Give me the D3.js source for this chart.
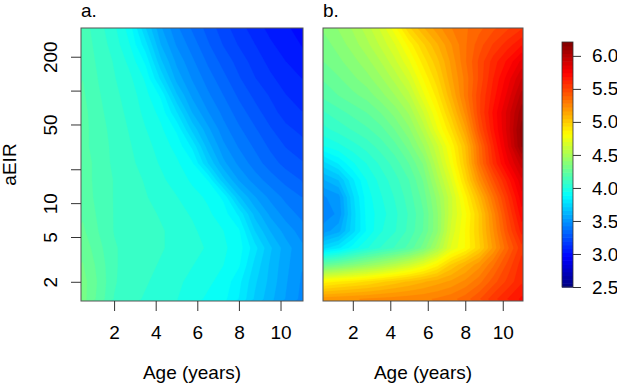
<!DOCTYPE html>
<html>
<head>
<meta charset="utf-8">
<script src="https://cdn.jsdelivr.net/npm/d3@7"></script>
<style>
  body { margin: 0; background: #fff; }
  svg text { font-family: "Liberation Sans", Arial, sans-serif; fill: #000; }
</style>
</head>
<body>
<svg id="chart" width="617" height="385"></svg>
<script>
// grid column centres (age, years) and row centres (aEIR, top row first)
const ages = [0.5, 1.25, 2, 2.75, 3.5, 4.25, 5, 5.75, 6.5, 7.25, 8, 8.75, 9.5, 10.25, 11];
const eir = [362, 256, 181, 128, 90.5, 64, 45.3, 32, 22.6, 16, 11.3, 8, 5.66, 4, 2.83, 2, 1.41];

// panel a values, one row per eir level
const valuesA = [
  [4.15, 4.09, 4.02, 3.92, 3.72, 3.55, 3.44, 3.36, 3.29, 3.22, 3.16, 3.11, 3.06, 3.03, 3.00],
  [4.16, 4.10, 4.04, 3.95, 3.80, 3.60, 3.48, 3.40, 3.32, 3.25, 3.19, 3.14, 3.09, 3.05, 3.02],
  [4.17, 4.11, 4.06, 3.99, 3.88, 3.67, 3.53, 3.44, 3.36, 3.29, 3.23, 3.17, 3.12, 3.08, 3.05],
  [4.18, 4.12, 4.07, 4.02, 3.94, 3.76, 3.58, 3.48, 3.40, 3.33, 3.26, 3.20, 3.15, 3.11, 3.08],
  [4.19, 4.13, 4.08, 4.04, 3.97, 3.88, 3.67, 3.53, 3.44, 3.37, 3.30, 3.24, 3.19, 3.14, 3.11],
  [4.20, 4.14, 4.09, 4.05, 3.99, 3.93, 3.78, 3.60, 3.49, 3.41, 3.34, 3.28, 3.22, 3.17, 3.14],
  [4.20, 4.15, 4.10, 4.06, 4.01, 3.96, 3.88, 3.70, 3.56, 3.45, 3.38, 3.32, 3.26, 3.21, 3.18],
  [4.20, 4.15, 4.11, 4.07, 4.03, 3.98, 3.93, 3.82, 3.63, 3.50, 3.42, 3.36, 3.30, 3.25, 3.22],
  [4.21, 4.16, 4.11, 4.08, 4.04, 4.00, 3.96, 3.90, 3.72, 3.56, 3.47, 3.40, 3.34, 3.29, 3.26],
  [4.21, 4.16, 4.12, 4.09, 4.06, 4.02, 3.98, 3.94, 3.89, 3.68, 3.54, 3.46, 3.40, 3.35, 3.31],
  [4.22, 4.16, 4.12, 4.09, 4.07, 4.04, 4.01, 3.97, 3.94, 3.88, 3.67, 3.55, 3.47, 3.41, 3.37],
  [4.23, 4.17, 4.12, 4.10, 4.08, 4.06, 4.03, 4.00, 3.96, 3.92, 3.82, 3.64, 3.53, 3.46, 3.41],
  [4.25, 4.18, 4.12, 4.10, 4.09, 4.07, 4.05, 4.02, 3.98, 3.95, 3.90, 3.72, 3.60, 3.52, 3.46],
  [4.28, 4.20, 4.13, 4.10, 4.09, 4.07, 4.05, 4.03, 4.00, 3.96, 3.92, 3.80, 3.67, 3.57, 3.50],
  [4.30, 4.22, 4.13, 4.10, 4.08, 4.06, 4.04, 4.01, 3.98, 3.95, 3.90, 3.76, 3.65, 3.56, 3.49],
  [4.32, 4.23, 4.13, 4.09, 4.07, 4.05, 4.02, 3.99, 3.96, 3.93, 3.85, 3.73, 3.64, 3.55, 3.48],
  [4.32, 4.22, 4.12, 4.08, 4.06, 4.04, 4.01, 3.97, 3.94, 3.91, 3.83, 3.71, 3.62, 3.54, 3.47]
];

// panel b values, one row per eir level
const valuesB = [
  [4.37, 4.42, 4.48, 4.56, 4.66, 4.80, 4.98, 5.10, 5.20, 5.28, 5.33, 5.38, 5.44, 5.50, 5.56],
  [4.33, 4.38, 4.44, 4.51, 4.60, 4.70, 4.84, 4.98, 5.10, 5.22, 5.33, 5.43, 5.52, 5.60, 5.68],
  [4.30, 4.34, 4.39, 4.45, 4.53, 4.63, 4.75, 4.90, 5.03, 5.18, 5.33, 5.47, 5.60, 5.70, 5.82],
  [4.25, 4.29, 4.34, 4.39, 4.46, 4.55, 4.66, 4.82, 4.97, 5.15, 5.30, 5.47, 5.63, 5.77, 5.92],
  [4.20, 4.24, 4.28, 4.32, 4.39, 4.47, 4.57, 4.74, 4.90, 5.10, 5.30, 5.50, 5.66, 5.82, 6.00],
  [4.12, 4.16, 4.20, 4.24, 4.30, 4.38, 4.48, 4.64, 4.82, 5.02, 5.24, 5.50, 5.70, 5.88, 6.07],
  [4.05, 4.09, 4.13, 4.17, 4.22, 4.30, 4.40, 4.55, 4.75, 4.93, 5.15, 5.45, 5.68, 5.88, 6.12],
  [3.95, 3.99, 4.04, 4.09, 4.15, 4.22, 4.32, 4.46, 4.63, 4.83, 5.05, 5.35, 5.62, 5.85, 6.10],
  [3.76, 3.84, 3.94, 4.01, 4.08, 4.15, 4.24, 4.36, 4.57, 4.78, 5.02, 5.33, 5.58, 5.78, 5.95],
  [3.60, 3.66, 3.82, 3.95, 4.03, 4.10, 4.18, 4.30, 4.50, 4.70, 4.95, 5.22, 5.45, 5.65, 5.85],
  [3.48, 3.52, 3.76, 3.92, 4.00, 4.07, 4.15, 4.26, 4.43, 4.63, 4.85, 5.08, 5.33, 5.56, 5.78],
  [3.45, 3.50, 3.74, 3.91, 3.98, 4.05, 4.13, 4.23, 4.40, 4.63, 4.80, 5.00, 5.25, 5.50, 5.72],
  [3.52, 3.58, 3.75, 3.90, 4.00, 4.06, 4.14, 4.24, 4.40, 4.66, 4.82, 5.00, 5.22, 5.45, 5.65],
  [3.76, 3.82, 3.92, 4.00, 4.07, 4.13, 4.20, 4.32, 4.50, 4.71, 4.82, 4.98, 5.18, 5.38, 5.55],
  [4.25, 4.30, 4.36, 4.42, 4.48, 4.55, 4.63, 4.73, 4.85, 5.00, 5.10, 5.20, 5.33, 5.47, 5.60],
  [4.85, 4.88, 4.91, 4.94, 4.98, 5.02, 5.06, 5.10, 5.14, 5.18, 5.24, 5.32, 5.43, 5.53, 5.62],
  [5.20, 5.21, 5.22, 5.23, 5.24, 5.25, 5.26, 5.27, 5.29, 5.32, 5.37, 5.45, 5.55, 5.63, 5.70]
];

const ageTicks = [2, 4, 6, 8, 10];
const eirTicks = [2, 5, 10, 20, 50, 100, 200];
const eirLabels = [2, 5, 10, 50, 200];
const keyTicks = [2.5, 3.0, 3.5, 4.0, 4.5, 5.0, 5.5, 6.0];
const jet = ["#00007F", "#0000FF", "#007FFF", "#00FFFF", "#7FFF7F", "#FFFF00", "#FF7F00", "#FF0000", "#7F0000"];
const zlim = [2.5, 6.21];
const nLevels = 64;

const svg = d3.select('#chart');
const plotTop = 28, plotBottom = 301;
const fontSize = 19;

const panels = [
  { id: 'a', label: 'a.', values: valuesA, left: 81, right: 303, yAxis: true },
  { id: 'b', label: 'b.', values: valuesB, left: 323, right: 523, yAxis: false }
];

const y = d3.scaleLog().domain([1.35, 360]).range([plotBottom, plotTop]);

// jet palette over zlim, cut into 64 levels like the R image
const color = d3.scaleLinear()
  .domain(jet.map((c, i) => zlim[0] + i * (zlim[1] - zlim[0]) / (jet.length - 1)))
  .range(jet);
const step = (zlim[1] - zlim[0]) / nLevels;
const levels = d3.range(nLevels).map(i => zlim[0] + i * step);

const nx = ages.length, ny = eir.length;
// contour grid coords -> data: sample i sits at i + 0.5
const colAge = d3.scaleLinear().domain(ages.map((d, i) => i + 0.5)).range(ages);
const rowLog = d3.scaleLinear().domain(eir.map((d, i) => i + 0.5)).range(eir.map(d => Math.log10(d)));

panels.forEach(p => {
  const x = d3.scaleLinear().domain([0.41, 11.08]).range([p.left, p.right]);

  svg.append('clipPath').attr('id', 'clip-' + p.id)
    .append('rect')
    .attr('x', p.left).attr('y', plotTop)
    .attr('width', p.right - p.left).attr('height', plotBottom - plotTop);

  const proj = d3.geoTransform({
    point(u, v) { this.stream.point(x(colAge(u)), y(Math.pow(10, rowLog(v)))); }
  });
  const path = d3.geoPath(proj);

  const bands = d3.contours().size([nx, ny]).thresholds(levels)(p.values.flat());

  svg.append('g')
    .attr('clip-path', `url(#clip-${p.id})`)
    .selectAll('path')
    .data(bands)
    .join('path')
      .attr('d', path)
      .attr('fill', d => color(d.value + step / 2))
      .attr('stroke', d => color(d.value + step / 2))
      .attr('stroke-width', 0.3);

  // box
  svg.append('rect')
    .attr('x', p.left).attr('y', plotTop)
    .attr('width', p.right - p.left).attr('height', plotBottom - plotTop)
    .attr('fill', 'none').attr('stroke', '#555').attr('stroke-width', 1);

  // x axis
  const xAxisG = svg.append('g')
    .attr('transform', `translate(0,${plotBottom})`)
    .call(d3.axisBottom(x).tickValues(ageTicks).tickSize(10).tickPadding(15));
  xAxisG.select('.domain').remove();
  xAxisG.selectAll('line').attr('stroke', '#333');
  xAxisG.selectAll('text').attr('font-size', fontSize).attr('font-family', null);

  svg.append('text')
    .attr('x', (p.left + p.right) / 2).attr('y', 379)
    .attr('text-anchor', 'middle')
    .attr('font-size', fontSize)
    .text('Age (years)');

  svg.append('text')
    .attr('x', p.left).attr('y', 17)
    .attr('font-size', fontSize)
    .text(p.label);

  if (p.yAxis) {
    const yAxisG = svg.append('g')
      .attr('transform', `translate(${p.left},0)`)
      .call(d3.axisLeft(y).tickValues(eirTicks).tickSize(10)
        .tickFormat(d => eirLabels.includes(d) ? d : ''));
    yAxisG.select('.domain').remove();
    yAxisG.selectAll('line').attr('stroke', '#333');
    yAxisG.selectAll('text')
      .attr('font-size', fontSize).attr('font-family', null)
      .attr('x', null).attr('dy', null)
      .attr('text-anchor', 'middle')
      .attr('transform', 'translate(-24,0) rotate(-90)');

    svg.append('text')
      .attr('transform', `translate(16,${(plotTop + plotBottom) / 2}) rotate(-90)`)
      .attr('text-anchor', 'middle')
      .attr('font-size', fontSize)
      .text('aEIR');
  }
});

// colour key
const keyY = d3.scaleLinear().domain(zlim).range([287, 42]);
svg.append('g').selectAll('rect')
  .data(levels)
  .join('rect')
    .attr('x', 562).attr('width', 11)
    .attr('y', d => keyY(d + step))
    .attr('height', d => keyY(d) - keyY(d + step) + 0.6)
    .attr('fill', d => color(d + step / 2));

svg.append('rect')
  .attr('x', 562).attr('y', 42).attr('width', 11).attr('height', 245)
  .attr('fill', 'none').attr('stroke', '#333').attr('stroke-width', 0.8);

const keyAxisG = svg.append('g')
  .attr('transform', 'translate(573,0)')
  .call(d3.axisRight(keyY).tickValues(keyTicks).tickSize(8).tickPadding(11).tickFormat(d3.format('.1f')));
keyAxisG.select('.domain').remove();
keyAxisG.selectAll('line').attr('stroke', '#333');
keyAxisG.selectAll('text').attr('font-size', fontSize).attr('font-family', null);
</script>
</body>
</html>
